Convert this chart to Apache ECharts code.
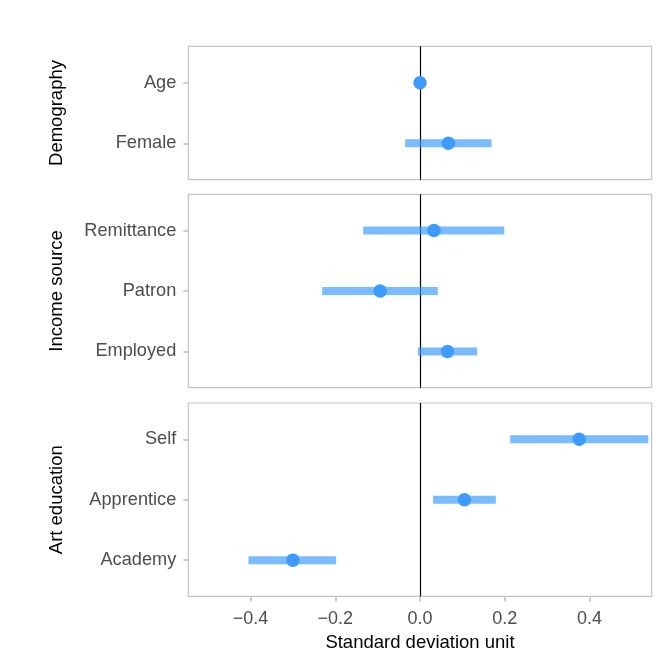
<!DOCTYPE html>
<html>
<head>
<meta charset="utf-8">
<script src="https://cdn.jsdelivr.net/npm/echarts@6/dist/echarts.min.js"></script>
<style>
html,body{margin:0;padding:0;background:#fff;}
#chart{width:664px;height:664px;}
</style>
</head>
<body>
<div id="chart"></div>
<script>
// ---- data ----
const panelTitles = ['Demography', 'Income source', 'Art education'];

const demoLabels = ['Age', 'Female'];
const demoEst = [0.0, 0.067];
const demoLo = [-0.004, -0.035];
const demoHi = [0.004, 0.169];

const incomeLabels = ['Remittance', 'Patron', 'Employed'];
const incomeEst = [0.033, -0.094, 0.065];
const incomeLo = [-0.134, -0.231, -0.005];
const incomeHi = [0.199, 0.042, 0.135];

const eduLabels = ['Self', 'Apprentice', 'Academy'];
const eduEst = [0.376, 0.105, -0.300];
const eduLo = [0.213, 0.031, -0.405];
const eduHi = [0.539, 0.179, -0.198];

const xTicks = [-0.4, -0.2, 0.0, 0.2, 0.4];
const xTitle = 'Standard deviation unit';

// ---- layout/style ----
const FONT = 'Liberation Sans, Arial, Helvetica, sans-serif';
const panels = [
  {labels: demoLabels, est: demoEst, lo: demoLo, hi: demoHi, top: 46.3, height: 133.4},
  {labels: incomeLabels, est: incomeEst, lo: incomeLo, hi: incomeHi, top: 194.3, height: 193.4},
  {labels: eduLabels, est: eduEst, lo: eduLo, hi: eduHi, top: 403, height: 193.4}
];
const XMIN = -0.547, XMAX = 0.547;
const barColor = 'rgba(51,153,255,0.66)';
const pointColor = '#3D9BFF';

const grid = [], xAxis = [], yAxis = [], series = [];
panels.forEach((p, i) => {
  const n = p.labels.length;
  const isLast = i === panels.length - 1;
  grid.push({left: 188.3, width: 463.4, top: p.top, height: p.height,
    show: true, borderColor: '#c4c4c4', borderWidth: 1.2, backgroundColor: '#fff', containLabel: false});
  xAxis.push({
    type: 'value', gridIndex: i, min: XMIN, max: XMAX, position: 'bottom',
    splitLine: {show: false}, axisLine: {show: false, onZero: false},
    axisTick: {show: isLast, customValues: xTicks, length: 5, lineStyle: {color: '#cccccc', width: 2}},
    axisLabel: {show: isLast, customValues: xTicks, color: '#4D4D4D', fontSize: 18, fontFamily: FONT, margin: 14,
      formatter: v => (v < 0 ? '\u2212' : '') + Math.abs(v).toFixed(1)},
    name: isLast ? xTitle : '', nameLocation: 'middle', nameGap: 37,
    nameTextStyle: {color: '#000', fontSize: 18.5, fontFamily: FONT}
  });
  const idx = p.labels.map((_, k) => k + 1);
  yAxis.push({
    type: 'value', gridIndex: i, min: 0.4, max: n + 0.6, inverse: true, position: 'left',
    splitLine: {show: false}, axisLine: {show: false, onZero: false},
    axisTick: {show: true, customValues: idx, length: 5, lineStyle: {color: '#cccccc', width: 2}},
    axisLabel: {customValues: idx, color: '#4D4D4D', fontSize: 18.2, fontFamily: FONT, margin: 12,
      padding: [3, 0, 0, 0],
      formatter: v => p.labels[Math.round(v) - 1] || ''},
    name: panelTitles[i], nameLocation: 'middle', nameRotate: 90, nameGap: 122,
    nameTextStyle: {color: '#000', fontSize: 18.5, fontFamily: FONT}
  });
  series.push({
    type: 'custom', xAxisIndex: i, yAxisIndex: i, z: 3, silent: true,
    data: p.labels.map((_, k) => [k + 1, p.lo[k], p.hi[k]]),
    encode: {x: [1, 2], y: 0},
    renderItem: (params, api) => {
      const a = api.coord([api.value(1), api.value(0)]);
      const b = api.coord([api.value(2), api.value(0)]);
      return {type: 'rect', shape: {x: a[0], y: a[1] - 4, width: b[0] - a[0], height: 8},
        style: {fill: barColor}};
    }
  });
  series.push({
    type: 'scatter', xAxisIndex: i, yAxisIndex: i, z: 4, silent: true,
    symbol: 'circle', symbolSize: 13.5, itemStyle: {color: pointColor, opacity: 1},
    data: p.est.map((v, k) => [v, k + 1]),
    markLine: {silent: true, symbol: 'none', label: {show: false}, animation: false,
      lineStyle: {color: '#000', width: 1.2, type: 'solid'}, z: 2,
      data: [{xAxis: 0}]}
  });
});

const chart = echarts.init(document.getElementById('chart'));
chart.setOption({animation: false, backgroundColor: '#fff', grid, xAxis, yAxis, series});
</script>
</body>
</html>
